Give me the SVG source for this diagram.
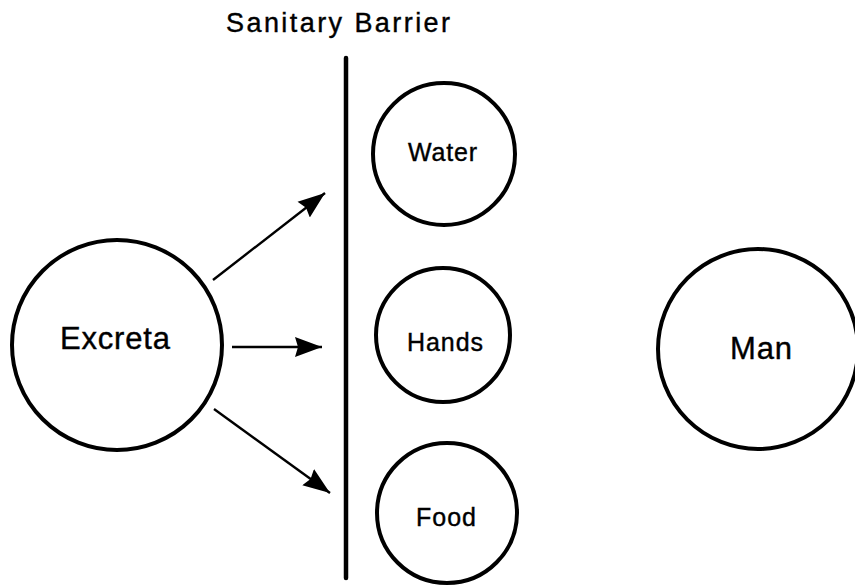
<svg xmlns="http://www.w3.org/2000/svg" width="855" height="585" viewBox="0 0 855 585">
  <defs>
    <style>
      .node circle { fill: #fff; stroke: #000; stroke-width: 4; }
      .label { font-family: "Liberation Sans", Arial, sans-serif; fill: #000; stroke: #000; stroke-width: 0.4; text-anchor: start; }
      .title { font-size: 27px; }
      .big { font-size: 31px; }
      .small { font-size: 25px; }
      .edge { stroke: #000; stroke-width: 2.4; fill: none; marker-end: url(#head); }
    </style>
    <marker id="head" markerUnits="userSpaceOnUse" markerWidth="28" markerHeight="22" refX="27" refY="11" orient="auto">
      <path d="M0,1 L27,11 L0,21 L3,11 Z" fill="#000"/>
    </marker>
  </defs>
  <rect width="855" height="585" fill="#fff"/>

  <!-- barrier -->
  <g id="barrier">
    <text class="label title" x="226" y="32" textLength="224" lengthAdjust="spacing">Sanitary Barrier</text>
    <line x1="346" y1="58" x2="346" y2="578" stroke="#000" stroke-width="4.5" stroke-linecap="round"/>
  </g>

  <g id="excreta" class="node">
    <circle cx="117" cy="345" r="105"/>
    <text class="label big" x="60" y="349" textLength="110" lengthAdjust="spacing">Excreta</text>
  </g>

  <g id="water" class="node">
    <circle cx="444" cy="154" r="71"/>
    <text class="label small" x="408" y="161" textLength="69" lengthAdjust="spacing">Water</text>
  </g>

  <g id="hands" class="node">
    <circle cx="443" cy="335" r="67"/>
    <text class="label small" x="407" y="351" textLength="76" lengthAdjust="spacing">Hands</text>
  </g>

  <g id="food" class="node">
    <circle cx="447" cy="513" r="70"/>
    <text class="label small" x="416" y="526" textLength="60" lengthAdjust="spacing">Food</text>
  </g>

  <g id="man" class="node">
    <circle cx="758" cy="349" r="100"/>
    <text class="label big" x="730" y="359" textLength="62" lengthAdjust="spacing">Man</text>
  </g>

  <g id="connectors">
    <line class="edge" x1="213" y1="280" x2="325" y2="193"/>
    <line class="edge" x1="232" y1="347" x2="322" y2="347" stroke-width="3"/>
    <line class="edge" x1="214" y1="409" x2="330" y2="493"/>
  </g>
</svg>
